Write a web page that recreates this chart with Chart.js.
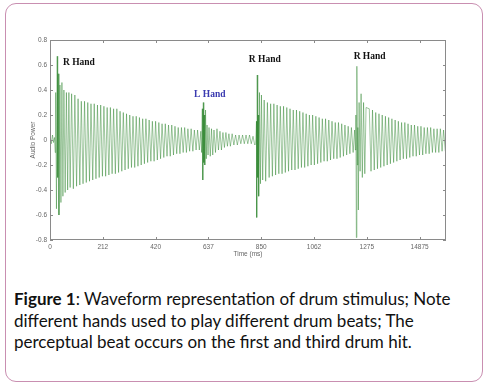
<!DOCTYPE html>
<html>
<head>
<meta charset="utf-8">
<script src="https://cdn.jsdelivr.net/npm/chart.js@4.4.1/dist/chart.umd.min.js"></script>
<style>
  html, body { margin: 0; padding: 0; background: #ffffff; }
  body { width: 491px; height: 390px; position: relative; overflow: hidden; }
  #card {
    position: absolute; left: 5px; top: 3px; width: 476px; height: 377px;
    border: 1.5px solid #c98fb1; border-radius: 11px; box-sizing: content-box;
  }
  #wrap { position: absolute; left: 0; top: 0; width: 491px; height: 258px; }
  #caption {
    position: absolute; left: 14px; top: 288px; width: 470px;
    font-family: Lato, "Open Sans", sans-serif; font-size: 17px; line-height: 21.7px;
    color: #111; white-space: nowrap;
  }
</style>
</head>
<body>
<div id="card"></div>
<div id="wrap"><canvas id="c" width="491" height="258"></canvas></div>
<div id="caption"><b>Figure 1</b>: Waveform representation of drum stimulus; Note<br>different hands used to play different drum beats; The<br>perceptual beat occurs on the first and third drum hit.</div>
<script>
// ---- tick labels ----
const xTickValues = [0, 212.5, 425, 637.5, 850, 1062.5, 1275, 1487.5];
const xTickLabels = ['0', '212', '420', '637', '850', '1062', '1275', '14875'];
const yTickValues = [-0.8, -0.6, -0.4, -0.2, 0, 0.2, 0.4, 0.6, 0.8];
const yTickLabels = ['-0.8', '-0.6', '-0.4', '-0.2', '0', '0.2', '0.4', '0.6', '0.8'];

// ---- hit 1 (R Hand) ----
const hit1Times = [0,5,10,14,18,21,23,26,29,31,33,36,40,44,48,52,56,61,66,71,76,81,
  87,94,100,107,113,120,126,133,139,146,152,159,165,172,178,185,191,198,204,211,217,224,230,237,
  243,250,256,263,269,276,282,289,295,302,308,315,321,328,334,341,347,354,360,367,373,380,386,393,
  399,406,412,419,425,432,438,445,451,458,464,471,477,484,490,497,503,510,516,523,529,536,542,549,
  555,562,568,575,581,588,594,601];
const hit1Values = [0.03,-0.03,0.04,-0.02,0.02,-0.10,0.38,-0.55,0.67,-0.30,0.53,-0.60,0.44,-0.50,0.46,-0.45,0.40,-0.42,0.38,-0.40,0.38,-0.38,
  0.37,-0.39,0.36,-0.37,0.33,-0.36,0.31,-0.35,0.31,-0.34,0.30,-0.33,0.29,-0.32,0.29,-0.31,0.28,-0.30,0.28,-0.29,0.27,-0.29,0.26,-0.28,
  0.26,-0.27,0.25,-0.27,0.25,-0.26,0.23,-0.25,0.22,-0.24,0.21,-0.23,0.20,-0.22,0.19,-0.22,0.19,-0.21,0.18,-0.20,0.17,-0.19,0.17,-0.18,
  0.16,-0.17,0.15,-0.17,0.15,-0.16,0.14,-0.15,0.13,-0.14,0.13,-0.13,0.12,-0.13,0.12,-0.12,0.11,-0.11,0.10,-0.11,0.10,-0.10,0.10,-0.10,
  0.09,-0.09,0.09,-0.09,0.08,-0.08,0.08,-0.08];

// ---- hit 2 (L Hand) ----
const hit2Times = [607,610,613,615,617,619,621,623,626,629,632,636,640,645,650,655,660,666,672,678,684,690,696,702,
  708,714,720,726,733,740,747,754,761,768,775,782,789,796,803,810,817,824];
const hit2Values = [0.07,-0.10,0.25,-0.32,0.30,-0.18,0.20,-0.20,0.24,-0.15,0.12,-0.12,0.10,-0.13,0.09,-0.12,0.08,-0.10,0.09,-0.08,0.07,-0.08,0.06,-0.06,
  0.06,-0.05,0.05,-0.05,0.05,-0.04,0.04,-0.04,0.04,-0.03,0.04,-0.03,0.04,-0.03,0.04,-0.03,0.03,-0.04];

// ---- hit 3 (R Hand) ----
const hit3Times = [828,831,832,834,836,838,840,843,847,851,856,862,868,
  875,882,888,895,901,908,914,921,927,934,940,947,953,960,966,973,979,986,992,999,1005,1012,1018,1025,
  1031,1038,1044,1051,1057,1064,1070,1077,1083,1090,1096,1103,1109,1116,1122,1129,1135,1142,1148,1155,
  1161,1168,1174,1181,1187,1194,1200,1207,1213,1220];
const hit3Values = [-0.03,0.15,-0.62,0.52,-0.30,0.20,-0.45,0.38,-0.35,0.36,-0.32,0.32,-0.33,
  0.30,-0.30,0.29,-0.29,0.29,-0.28,0.28,-0.27,0.27,-0.27,0.27,-0.26,0.26,-0.25,0.25,-0.24,0.24,-0.24,0.24,-0.23,0.23,-0.22,0.22,-0.22,
  0.21,-0.21,0.20,-0.20,0.20,-0.20,0.19,-0.19,0.18,-0.18,0.17,-0.17,0.17,-0.17,0.16,-0.16,0.15,-0.15,0.14,-0.15,
  0.14,-0.14,0.13,-0.13,0.12,-0.12,0.11,-0.11,0.10,-0.10];

// ---- hit 4 (R Hand) ----
const hit4Times = [1226,1229,1231,1233,1235,1237,1239,1241,1244,1248,1252,1257,1262,1267,1272,
  1285,1292,1298,1305,1311,1318,1324,1331,1337,1344,1350,1357,1363,1370,1376,1383,1389,1396,1402,1409,
  1415,1422,1428,1435,1441,1448,1454,1461,1467,1474,1480,1487,1493,1500,1506,1513,1519,1526,1532,1539,
  1545,1552,1558,1565,1571,1578,1584,1591];
const hit4Values = [0.08,-0.08,0.20,-0.78,0.59,-0.20,0.10,-0.56,0.30,-0.25,0.37,-0.30,0.30,-0.27,0.26,
  0.25,-0.25,0.24,-0.24,0.22,-0.23,0.21,-0.22,0.20,-0.21,0.19,-0.20,0.18,-0.19,0.17,-0.18,0.16,-0.17,0.15,-0.16,
  0.14,-0.15,0.14,-0.15,0.13,-0.14,0.12,-0.13,0.12,-0.13,0.11,-0.12,0.11,-0.12,0.10,-0.11,0.10,-0.11,0.10,-0.10,
  0.09,-0.10,0.09,-0.10,0.09,-0.09,0.08,-0.09];

const waveTimes = [].concat(hit1Times, hit2Times, hit3Times, hit4Times);
const waveValues = [].concat(hit1Values, hit2Values, hit3Values, hit4Values);
const wavePoints = waveTimes.map((t, i) => ({ x: t, y: waveValues[i] }));

const axisFont = { family: 'Liberation Sans, Arial, sans-serif', size: 6.5 };
const axisColor = '#666666';

const framePlugin = {
  id: 'frame',
  afterDraw(chart) {
    const { ctx, chartArea: a, scales } = chart;
    ctx.save();
    ctx.strokeStyle = '#8a8a8a';
    ctx.lineWidth = 1;
    ctx.strokeRect(Math.round(a.left) + 0.5, Math.round(a.top) + 0.5,
      Math.round(a.right - a.left) - 1, Math.round(a.bottom - a.top) - 1);
    ctx.beginPath();
    const tl = 3;
    scales.x.ticks.forEach(t => {
      const px = Math.round(scales.x.getPixelForValue(t.value)) + 0.5;
      ctx.moveTo(px, a.bottom); ctx.lineTo(px, a.bottom - tl);
      ctx.moveTo(px, a.top); ctx.lineTo(px, a.top + tl);
    });
    scales.y.ticks.forEach(t => {
      const py = Math.round(scales.y.getPixelForValue(t.value)) + 0.5;
      ctx.moveTo(a.left, py); ctx.lineTo(a.left + tl, py);
      ctx.moveTo(a.right, py); ctx.lineTo(a.right - tl, py);
    });
    ctx.stroke();

    // hand labels
    const notes = chart.options.plugins.frame.notes;
    notes.forEach(n => {
      ctx.font = 'bold 9.5px "Liberation Serif", "Times New Roman", serif';
      ctx.fillStyle = n.color;
      ctx.textAlign = 'left';
      ctx.textBaseline = 'middle';
      ctx.fillText(n.text, scales.x.getPixelForValue(n.x), scales.y.getPixelForValue(n.y));
    });
    ctx.restore();
  }
};

new Chart(document.getElementById('c'), {
  type: 'line',
  data: {
    datasets: [{
      data: wavePoints,
      borderColor: 'rgba(30,125,30,0.72)',
      borderWidth: 0.6,
      pointRadius: 0,
      tension: 0,
      fill: false
    }]
  },
  options: {
    responsive: false,
    animation: false,
    devicePixelRatio: 1,
    layout: { padding: { left: 29, top: 40, right: 45, bottom: 0 } },
    plugins: {
      legend: { display: false },
      tooltip: { enabled: false },
      frame: {
        notes: [
          { text: 'R Hand', x: 52, y: 0.62, color: '#111111' },
          { text: 'L Hand', x: 580, y: 0.365, color: '#3a3ab0' },
          { text: 'R Hand', x: 800, y: 0.645, color: '#111111' },
          { text: 'R Hand', x: 1222, y: 0.665, color: '#111111' }
        ]
      }
    },
    scales: {
      x: {
        type: 'linear',
        min: 0, max: 1593.75,
        afterBuildTicks: s => { s.ticks = xTickValues.map(v => ({ value: v })); },
        afterFit: s => { s.height = 18; },
        grid: { display: false, drawTicks: false },
        border: { display: false },
        ticks: {
          font: axisFont, color: axisColor, padding: 3, maxRotation: 0, autoSkip: false,
          callback: (v, i) => xTickLabels[i]
        },
        title: { display: true, text: 'Time (ms)', font: axisFont, color: axisColor, padding: 0 }
      },
      y: {
        type: 'linear',
        min: -0.8, max: 0.8,
        afterBuildTicks: s => { s.ticks = yTickValues.map(v => ({ value: v })); },
        afterFit: s => { s.width = 21; },
        grid: { display: false, drawTicks: false },
        border: { display: false },
        ticks: {
          font: axisFont, color: axisColor, padding: 3, autoSkip: false,
          callback: (v, i) => yTickLabels[i]
        },
        title: { display: true, text: 'Audio Power', font: axisFont, color: axisColor, padding: 0 }
      }
    }
  },
  plugins: [framePlugin]
});
</script>
</body>
</html>
